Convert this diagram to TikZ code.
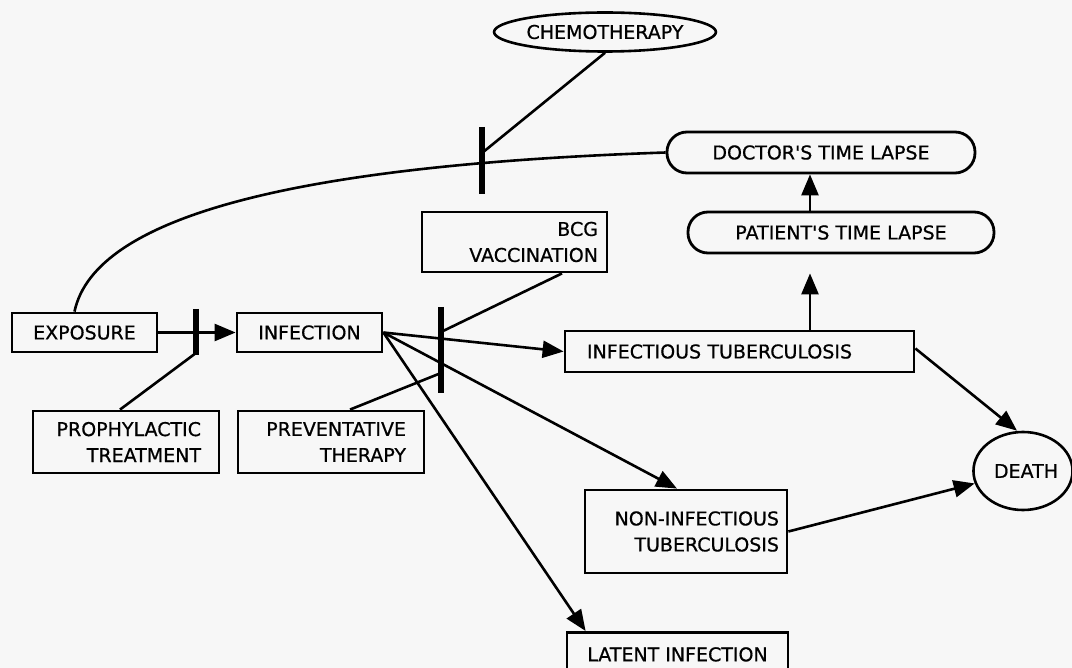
\documentclass[tikz,border=0pt]{standalone}
\usepackage{fontspec}
\setmainfont{DejaVu Sans}[BoldFont=DejaVu Sans, BoldFeatures={FakeBold=0.7}]
\usetikzlibrary{arrows.meta,shapes.geometric,calc}
\begin{document}
\begin{tikzpicture}[x=1pt,y=-1pt,
  font=\fontsize{19}{26}\selectfont\bfseries,
  bx/.style={draw, line width=2.8pt, inner xsep=0pt, inner ysep=0pt},
  capsule/.style={draw, line width=2.8pt, rounded corners=20pt, inner sep=0pt},
  oval/.style={draw, ellipse, line width=2.6pt, inner sep=0pt},
  ln/.style={line width=2.6pt},
  arr/.style={line width=2.6pt, -{Triangle[length=21pt,width=17pt]}},
  barline/.style={line width=5.5pt}]
\fill[black!3] (0,0) rectangle (1072,668);
\useasboundingbox (0,0) rectangle (1072,668);

% nodes
\node[bx, minimum width=145pt, minimum height=39pt] (exposure) at (84.5,332.5) {EXPOSURE};
\node[bx, minimum width=145pt, minimum height=39pt] (infection) at (309.5,332.5) {INFECTION};
\node[bx, minimum height=62pt, text width=150pt, inner xsep=18pt, align=right] (proph) at (126,442) {PROPHYLACTIC\\TREATMENT};
\node[bx, minimum height=62pt, text width=150pt, inner xsep=18pt, align=right] (prevent) at (331,442) {PREVENTATIVE\\THERAPY};
\node[bx, minimum height=60pt, text width=167pt, inner xsep=9pt, align=right] (bcg) at (514.5,242) {BCG\\VACCINATION};
\node[bx, minimum height=83pt, text width=186pt, inner xsep=8pt, align=right] (nonInf) at (686,531.5) {NON-INFECTIOUS\\TUBERCULOSIS};
\node[bx, minimum height=41pt, text width=305pt, inner xsep=22pt, align=left] (infTB) at (739.5,351.5) {INFECTIOUS TUBERCULOSIS};
\node[bx, minimum width=221pt, minimum height=44pt, anchor=north] (latent) at (677.5,631) {LATENT INFECTION};
\node[oval, minimum width=205pt, minimum height=39pt] (chemo) at (605,32) {CHEMOTHERAPY};
\node[capsule, minimum width=308pt, minimum height=41pt] (doctor) at (821,152.5) {DOCTOR\textquotesingle S TIME LAPSE};
\node[capsule, minimum width=306pt, minimum height=41pt] (patient) at (841,232.5) {PATIENT\textquotesingle S TIME LAPSE};
\node[oval, minimum width=96pt, minimum height=78pt] (death) at (1023,471) {\hspace{6pt}DEATH};

% bar coordinates
\coordinate (b1t) at (196,309);
\coordinate (b1b) at (196,355);
\coordinate (b1j) at (196,353);
\coordinate (b2t) at (441,307);
\coordinate (b2b) at (441,393);
\coordinate (b2u) at (441,332);
\coordinate (b2l) at (441,373);
\coordinate (b3t) at (482,127);
\coordinate (b3b) at (482,194);
\coordinate (b3m) at (482,153);
\coordinate (pd) at (810,0);

% bars
\draw[barline] (b1t) -- (b1b);
\draw[barline] (b2t) -- (b2b);
\draw[barline] (b3t) -- (b3b);

% connectors
\draw[arr] (exposure.east) -- (infection.west);
\draw[ln] ([xshift=-6pt]proph.north) -- (b1j);
\draw[ln] ([xshift=19pt]prevent.north) -- (b2l);
\draw[ln] ([xshift=47.5pt]bcg.south) -- (b2u);
\draw[ln] (chemo.south) -- (b3m);
\draw[ln] ([xshift=-10pt]exposure.north) .. controls (95,215) and (300,165) .. (doctor.west);

\draw[arr] (infection.east) -- (infTB.west);
\draw[arr] (infection.east) -- ([xshift=-9pt]nonInf.north);
\draw[arr] (infection.east) -- ([xshift=20pt]latent.north west);
\draw[arr] ([yshift=3pt]infTB.east) -- ([xshift=-6pt]death.north);
\draw[arr] (nonInf.east) -- (death);
\draw[arr, shorten >=19pt] (infTB.north -| pd) -- (patient.south -| pd);
\draw[arr] (patient.north -| pd) -- (doctor.south -| pd);
\end{tikzpicture}
\end{document}
